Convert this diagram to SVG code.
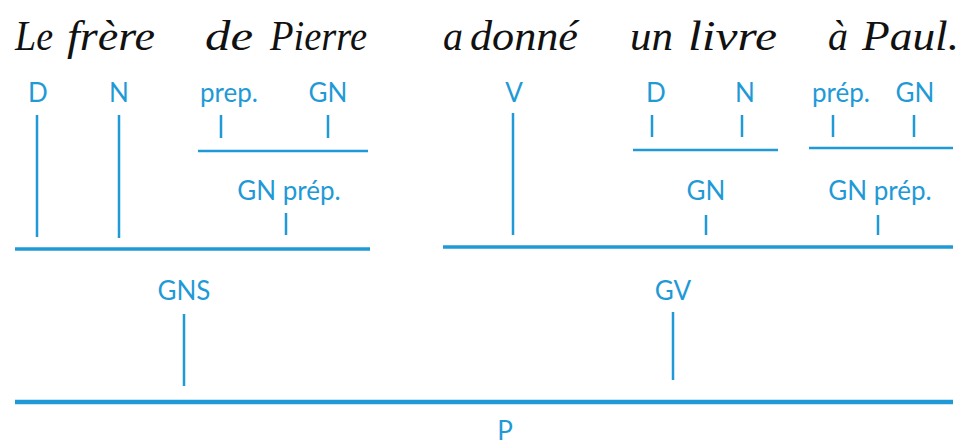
<svg xmlns="http://www.w3.org/2000/svg" width="965" height="446" viewBox="0 0 965 446">
<style>
.t{font-family:"Liberation Serif","DejaVu Serif",serif;font-style:italic;font-size:42px;fill:#111}
.l{font-family:Lato,"Open Sans",sans-serif;font-size:26px;fill:#1f9ad6;text-anchor:middle}
.c line{stroke:#1f9ad6;stroke-width:2.5;stroke-linecap:butt}
.c .h{stroke-width:2.5}
.c .b{stroke-width:3.5}
.c .bb{stroke-width:4.5}
</style>
<rect width="965" height="446" fill="#fff"/>
<g id="sentence" class="t">
<text x="15" y="50" textLength="38" lengthAdjust="spacingAndGlyphs">Le</text>
<text x="67" y="50" textLength="88" lengthAdjust="spacingAndGlyphs">frère</text>
<text x="205" y="50" textLength="48" lengthAdjust="spacingAndGlyphs">de</text>
<text x="270" y="50" textLength="97" lengthAdjust="spacingAndGlyphs">Pierre</text>
<text x="443" y="50" textLength="20" lengthAdjust="spacingAndGlyphs">a</text>
<text x="470" y="50" textLength="108" lengthAdjust="spacingAndGlyphs">donné</text>
<text x="630" y="50" textLength="43" lengthAdjust="spacingAndGlyphs">un</text>
<text x="688" y="50" textLength="89" lengthAdjust="spacingAndGlyphs">livre</text>
<text x="828" y="50" textLength="20" lengthAdjust="spacingAndGlyphs">à</text>
<text x="862" y="50" textLength="97" lengthAdjust="spacingAndGlyphs">Paul.</text>
</g>
<g id="n-D1"><text class="l" x="38" y="102">D</text></g>
<g id="n-N1"><text class="l" x="119" y="102">N</text></g>
<g id="n-prep1"><text class="l" x="229" y="102">prep.</text></g>
<g id="n-GN1"><text class="l" x="328" y="102">GN</text></g>
<g id="n-GNprep1"><text class="l" x="289" y="200">GN prép.</text></g>
<g id="n-V"><text class="l" x="514" y="102">V</text></g>
<g id="n-D2"><text class="l" x="656" y="102">D</text></g>
<g id="n-N2"><text class="l" x="745" y="102">N</text></g>
<g id="n-prep2"><text class="l" x="841" y="102">prép.</text></g>
<g id="n-GN2"><text class="l" x="915" y="102">GN</text></g>
<g id="n-GN3"><text class="l" x="706" y="200">GN</text></g>
<g id="n-GNprep2"><text class="l" x="880" y="200">GN prép.</text></g>
<g id="n-GNS"><text class="l" x="184" y="300">GNS</text></g>
<g id="n-GV"><text class="l" x="673" y="300">GV</text></g>
<g id="n-P"><text class="l" x="505" y="440">P</text></g>
<g id="connectors" class="c">
<line x1="37" y1="115" x2="37" y2="237"/>
<line x1="119" y1="115" x2="119" y2="238"/>
<line x1="221" y1="115" x2="221" y2="138"/>
<line x1="328" y1="115" x2="328" y2="138"/>
<line class="h" x1="198" y1="151" x2="368" y2="151"/>
<line x1="286" y1="213" x2="286" y2="235"/>
<line class="b" x1="15" y1="249" x2="370" y2="249"/>
<line x1="513" y1="113" x2="513" y2="235"/>
<line x1="652" y1="115" x2="652" y2="137"/>
<line x1="742" y1="115" x2="742" y2="137"/>
<line class="h" x1="633" y1="150" x2="778" y2="150"/>
<line x1="833" y1="115" x2="833" y2="137"/>
<line x1="914" y1="115" x2="914" y2="137"/>
<line class="h" x1="809" y1="148" x2="953" y2="148"/>
<line x1="706" y1="215" x2="706" y2="235"/>
<line x1="878" y1="215" x2="878" y2="235"/>
<line class="b" x1="443" y1="247" x2="953" y2="247"/>
<line x1="184" y1="314" x2="184" y2="386"/>
<line x1="673" y1="312" x2="673" y2="380"/>
<line class="bb" x1="15" y1="402" x2="953" y2="402"/>
</g>
</svg>
